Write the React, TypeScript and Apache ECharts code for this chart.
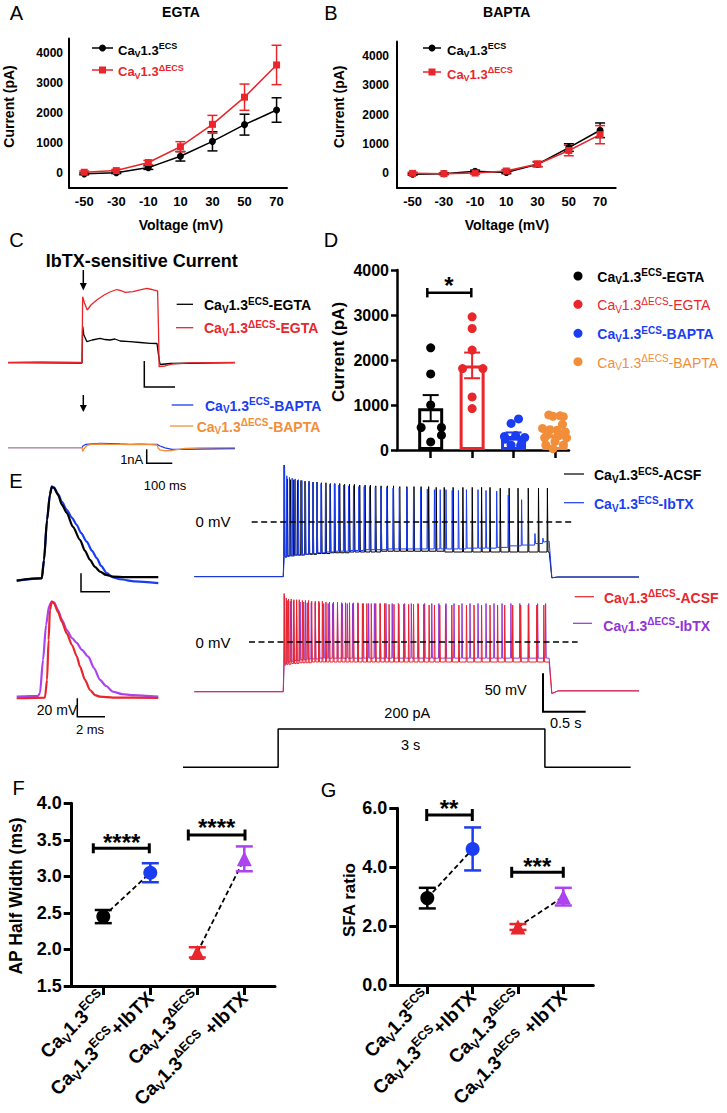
import React, { useEffect, useRef } from "react";
import * as echarts from "echarts";

const FONT = "'Liberation Sans', Arial, Helvetica, sans-serif";
const BLACK = "#000000";
const RED = "#E8262B";
const BLUE = "#1B3DF2";
const ORANGE = "#F28E3A";
const PURPLE = "#AD42F0";
const PURPLE_E = "#9333D6";

// ---------- Panel A / B (I-V) ----------
const voltages = [-50, -30, -10, 10, 30, 50, 70];
const egtaEcsMean = [-40, 0, 170, 550, 1050, 1610, 2100];
const egtaEcsSem = [30, 30, 60, 160, 320, 350, 410];
const egtaDeltaMean = [15, 70, 340, 870, 1620, 2530, 3610];
const egtaDeltaSem = [40, 40, 70, 170, 300, 440, 660];
const baptaEcsMean = [-30, -10, 70, 30, 310, 880, 1470];
const baptaEcsSem = [30, 30, 40, 40, 80, 130, 250];
const baptaDeltaMean = [0, -10, 10, 80, 320, 780, 1320];
const baptaDeltaSem = [40, 30, 40, 50, 90, 180, 310];
const ivTicks = [0, 1000, 2000, 3000, 4000];

// ---------- Panel C (IbTX-sensitive current, [ms, pA]) ----------
const ibtxEcsEgta = [[0, 11], [241, 0], [243, 1370], [247, 1037], [257, 789], [274, 852], [300, 915], [316, 870], [332, 852], [348, 889], [365, 815], [397, 789], [430, 759], [463, 730], [485, 722], [490, 296], [495, -56], [528, -19], [739, 11]];
const ibtxDeltaEgta = [[0, 19], [104, 37], [241, 19], [243, 2456], [249, 2222], [258, 1963], [270, 2148], [289, 2333], [313, 2519], [332, 2630], [354, 2722], [371, 2667], [381, 2619], [407, 2641], [430, 2704], [452, 2767], [469, 2722], [487, 2667], [490, 1222], [492, -137], [511, -111], [537, -30], [593, 7], [739, 19]];
const ibtxEcsBapta = [[0, 0], [241, 0], [244, 121], [254, 243], [274, 279], [300, 314], [332, 293], [365, 264], [397, 243], [430, 250], [463, 243], [485, 236], [495, 121], [511, -21], [534, -114], [577, -114], [625, -93], [739, -57]];
const ibtxDeltaBapta = [[0, 0], [241, 0], [243, -271], [247, -93], [257, 157], [274, 229], [300, 264], [332, 243], [365, 229], [397, 221], [430, 229], [463, 221], [485, 193], [489, -21], [495, -164], [511, -221], [534, -200], [577, -57], [625, -7], [739, 0]];

// ---------- Panel D ----------
const dCategories = [0, 1, 2, 3];
const dMeans = [930, 1880, 310, 350];
const dSems = [290, 285, 80, 70];
const dEcsEgtaVals = [2270, 1690, 1000, 500, 500, 330, 180];
const dEcsEgtaJit = [0, 0, 0, -0.23, 0.26, 0.26, 0];
const dDeltaEgtaVals = [2960, 2700, 2220, 1810, 1810, 1180, 920];
const dDeltaEgtaJit = [0, 0, 0, -0.23, 0.26, 0, 0];
const dEcsBaptaVals = [690, 590, 300, 320, 280, 240, 200, 110, 100];
const dEcsBaptaJit = [0.12, -0.06, -0.22, 0.05, 0.27, -0.2, 0.2, -0.06, 0.17];
const dDeltaBaptaVals = [780, 760, 740, 750, 570, 480, 450, 440, 400, 330, 320, 270, 270, 190, 110, 110, 30];
const dDeltaBaptaJit = [-0.15, 0.12, 0.2, -0.05, 0.18, -0.3, -0.12, 0.05, 0.25, -0.2, 0.1, -0.25, 0.28, 0, -0.22, 0.2, -0.05];

// ---------- Panel E: single APs [ms, mV] ----------
const apEcsAcsf = [[0, -64.9], [1.81, -62.3], [1.97, -42.4], [2.19, 1.1], [2.4, 28.3], [2.53, 36.6], [2.69, 35.9], [2.98, 28.3], [3.27, 17.4], [3.61, 8.7], [4.06, -6.5], [4.57, -20.7], [4.93, -32.6], [5.29, -42.4], [5.65, -50], [6.01, -55.1], [6.45, -58.7], [6.95, -60.5], [7.82, -61.2], [10.22, -61.2]];
const apEcsIbtx = [[0, -64.9], [1.81, -62.5], [1.97, -42.4], [2.19, 1.1], [2.4, 29.3], [2.53, 37.5], [2.69, 36.4], [2.98, 29.3], [3.27, 20.7], [3.61, 12], [3.99, 3.3], [4.33, -4.3], [4.64, -13], [5.05, -22.5], [5.44, -32.6], [5.78, -40.5], [6.09, -48.9], [6.5, -56.8], [6.95, -61.4], [7.45, -63.4], [8.54, -65.8], [10.22, -67.7]];
const apDeltaAcsf = [[0, -66.7], [2.04, -65.9], [2.19, -46.8], [2.3, -3.4], [2.4, 29.2], [2.53, 38.3], [2.69, 36.8], [2.98, 27.1], [3.27, 16.2], [3.61, 3.9], [3.99, -8.8], [4.33, -20.8], [4.57, -32.4], [4.93, -46.8], [5.29, -57.7], [5.65, -63.2], [6.01, -65], [6.95, -65.9], [10.22, -66.4]];
const apDeltaIbtx = [[0, -65], [1.54, -64.2], [1.68, -61], [1.9, -25], [2.12, 12.9], [2.34, 33.6], [2.53, 38.3], [2.69, 37.4], [2.98, 29.2], [3.27, 18.4], [3.61, 7.5], [3.99, -1.2], [4.33, -6.6], [4.71, -14.2], [5.17, -21.5], [5.58, -33.8], [6.01, -46.8], [6.45, -53.4], [6.95, -59.6], [7.6, -62.1], [8.39, -63.2], [10.22, -65]];

// ---------- Panel E: spike trains [s, mV] ----------
const ecsAcsfTimes = [1.01, 1.045, 1.08, 1.12, 1.16, 1.2, 1.245, 1.29, 1.335, 1.38, 1.43, 1.48, 1.53, 1.58, 1.635, 1.69, 1.745, 1.8, 1.86, 1.92, 1.98, 2.04, 2.1, 2.17, 2.24, 2.31, 2.39, 2.47, 2.55, 2.635, 2.72, 2.81, 2.91, 3.02, 3.125, 3.23, 3.325, 3.44, 3.54, 3.64, 3.755, 3.87, 3.97];
const ecsAcsfPeaks = [74, 56, 55, 55, 54, 54, 53, 53, 52, 52, 51, 51, 50, 50, 50, 49, 49, 49, 48, 48, 48, 47, 47, 47, 47, 46, 46, 46, 46, 46, 45, 45, 45, 45, 45, 45, 45, 44, 44, 44, 44, 44, 44];
const ecsAcsfTroughs = [-45, -44, -44, -43, -43, -43, -42, -42, -42, -41, -41, -41, -40, -40, -40, -40, -39, -39, -39, -39, -39, -39, -38, -38, -38, -38, -38, -38, -38, -38, -38, -39, -39, -39, -39, -39, -39, -39, -39, -39, -39, -39, -39];
const ecsIbtxTimes = [1.015, 1.04, 1.07, 1.1, 1.135, 1.17, 1.21, 1.25, 1.29, 1.335, 1.38, 1.425, 1.475, 1.525, 1.575, 1.625, 1.68, 1.735, 1.79, 1.85, 1.91, 1.97, 2.035, 2.1, 2.165, 2.235, 2.305, 2.39, 2.465, 2.545, 2.62, 2.7, 2.765, 2.83, 2.9, 2.97, 3.06, 3.19, 3.28, 3.4, 3.53, 3.68, 3.83, 3.92];
const ecsIbtxPeaks = [72, 60, 58, 57, 56, 55, 54, 53, 52, 52, 51, 50, 50, 49, 49, 48, 48, 47, 47, 46, 46, 46, 45, 45, 45, 44, 44, 44, 43, 43, 43, 42, 42, 42, 41, 41, 42, 42, 41, 40, 35, 29, -15, -21];
const ecsIbtxTroughs = [-46, -45, -44, -44, -43, -43, -42, -42, -41, -41, -40, -40, -39, -39, -38, -38, -38, -37, -37, -37, -36, -36, -36, -36, -35, -35, -35, -35, -35, -35, -35, -35, -35, -35, -35, -35, -34, -34, -34, -33, -31, -30, -28, -26];
const deltaAcsfTimes = [1.01, 1.035, 1.06, 1.09, 1.12, 1.15, 1.18, 1.215, 1.25, 1.285, 1.32, 1.36, 1.4, 1.44, 1.48, 1.52, 1.565, 1.61, 1.655, 1.7, 1.745, 1.79, 1.84, 1.89, 1.94, 1.99, 2.04, 2.09, 2.14, 2.19, 2.245, 2.3, 2.355, 2.41, 2.465, 2.52, 2.58, 2.64, 2.7, 2.76, 2.825, 2.895, 2.975, 3.06, 3.145, 3.23, 3.325, 3.41, 3.49, 3.58, 3.67, 3.755, 3.85, 3.93];
const deltaAcsfPeaks = [63, 57, 56, 56, 55, 55, 55, 54, 54, 54, 53, 53, 53, 53, 52, 52, 52, 52, 51, 51, 51, 51, 51, 50, 50, 50, 50, 50, 50, 49, 49, 49, 49, 49, 49, 49, 49, 48, 48, 48, 48, 48, 48, 48, 48, 48, 48, 48, 48, 48, 48, 48, 48, 48];
const deltaAcsfTroughs = [-30, -29, -29, -28, -28, -28, -27, -27, -27, -27, -26, -26, -26, -26, -26, -26, -26, -26, -26, -26, -26, -26, -26, -26, -26, -26, -26, -26, -26, -26, -26, -26, -26, -26, -26, -26, -26, -26, -26, -26, -26, -26, -26, -26, -26, -26, -26, -26, -26, -26, -26, -26, -26, -26];
const deltaIbtxTimes = [1.015, 1.045, 1.08, 1.115, 1.15, 1.19, 1.23, 1.27, 1.315, 1.36, 1.405, 1.455, 1.505, 1.555, 1.61, 1.665, 1.72, 1.78, 1.84, 1.9, 1.96, 2.025, 2.09, 2.155, 2.225, 2.295, 2.365, 2.44, 2.515, 2.59, 2.67, 2.75, 2.83, 2.92, 3.01, 3.1, 3.19, 3.28, 3.37, 3.46, 3.56, 3.66, 3.76, 3.86, 3.95];
const deltaIbtxPeaks = [60, 54, 53, 53, 52, 52, 52, 51, 51, 51, 51, 50, 50, 50, 50, 50, 50, 50, 50, 50, 50, 50, 50, 50, 50, 50, 50, 50, 50, 50, 50, 50, 50, 50, 50, 50, 50, 50, 50, 50, 50, 50, 50, 50, 50];
const deltaIbtxTroughs = [-28, -26, -25, -24, -24, -23, -23, -22, -22, -22, -21, -21, -21, -21, -21, -21, -21, -21, -21, -21, -21, -21, -21, -21, -21, -21, -21, -21, -21, -21, -21, -21, -21, -21, -21, -21, -21, -21, -21, -21, -21, -21, -21, -21, -21];
const topRest = [-71, -72.5, -71.5];
const bottomRest = [-64.6, -67, -63.5];
const zeroLineTop = [[0.645, 0], [4.25, 0]];
const zeroLineBottom = [[0.615, 0], [4.31, 0]];
const currentStep = [[-0.07, 0], [1, 0], [1, 200], [4, 200], [4, 0], [4.965, 0]];

// ---------- Panel F / G ----------
const fgPositions = [0, 1, 2, 3];
const fMeans = [2.45, 3.05, 1.96, 3.24];
const fSems = [0.09, 0.13, 0.07, 0.17];
const gMeans = [2.95, 4.62, 1.97, 3.0];
const gSems = [0.35, 0.73, 0.1, 0.3];

const richStyles = (fs: number, sfs: number, weight: string, color: string) => ({
  m: { fontSize: fs, fontWeight: weight, fontFamily: FONT, color, fill: color, lineHeight: Math.round(fs * 1.3) },
  s: { fontSize: sfs, fontWeight: weight, fontFamily: FONT, color, fill: color, lineHeight: sfs, verticalAlign: "bottom" },
  u: { fontSize: sfs, fontWeight: weight, fontFamily: FONT, color, fill: color, lineHeight: sfs, verticalAlign: "top" },
});
const caLabel = (sup: string, suffix = "") => `{m|Ca}{s|V}{m|1.3}{u|${sup}}` + (suffix ? `{m|${suffix}}` : "");
const fgLabels = [caLabel("ECS"), caLabel("ECS", "+IbTX"), caLabel("ΔECS"), caLabel("ΔECS", " +IbTX")];
const fgColors = [BLACK, BLUE, RED, PURPLE];
const fgSymbols = ["circle", "circle", "triangle", "triangle"];

function buildTrain(times: number[], peaks: number[], troughs: number[], rest: number[], tail: number, onset: number, offset: number, end: number) {
  const d: number[][] = [[0, rest[0]], [onset, rest[0]]];
  times.forEach((t, i) => {
    const before = i === 0 ? troughs[0] : troughs[i - 1];
    d.push([t - 0.004, before], [t, peaks[i]], [t + 0.007, troughs[i]]);
  });
  d.push([offset, tail], [offset + 0.03, rest[1]], [offset + 0.1, rest[2]], [end, rest[2]]);
  return d;
}

const T = (x: number, y: number, text: string, fs: number, o: any = {}) => ({
  type: "text", x, y, z: 100, rotation: o.rot || 0,
  style: { text, fontSize: fs, fontWeight: o.weight || "normal", fontFamily: FONT, fill: o.color || BLACK, align: o.align || "center", verticalAlign: "middle" },
});
const RT = (x: number, y: number, str: string, fs: number, sfs: number, weight: string, color: string) => ({
  type: "text", x, y, z: 100,
  style: { text: str, rich: richStyles(fs, sfs, weight, color), fontSize: fs, fontWeight: weight, fontFamily: FONT, fill: color, align: "left", verticalAlign: "middle" },
});
const PL = (pts: number[][], color = BLACK, lw = 1.5) => ({ type: "polyline", z: 100, shape: { points: pts }, style: { stroke: color, lineWidth: lw, fill: null } });
const PG = (pts: number[][], color = BLACK) => ({ type: "polygon", z: 100, shape: { points: pts }, style: { fill: color } });
const CI = (cx: number, cy: number, r: number, color: string) => ({ type: "circle", z: 100, shape: { cx, cy, r }, style: { fill: color } });
const RC = (x: number, y: number, w: number, h: number, color: string) => ({ type: "rect", z: 100, shape: { x, y, width: w, height: h }, style: { fill: color } });
const bracket = (x1: number, x2: number, y: number, h: number, lw: number) => [
  PL([[x1, y - h], [x1, y + h]], BLACK, lw), PL([[x1, y], [x2, y]], BLACK, lw), PL([[x2, y - h], [x2, y + h]], BLACK, lw),
];

const errRender = (colors: string[], capW: number, lw: number) => (params: any, api: any) => {
  const x = api.value(0), y = api.value(1), e = api.value(2), ci = api.value(3);
  const c = colors[ci] || colors[0];
  const p1 = api.coord([x, y + e]);
  const p2 = api.coord([x, y - e]);
  const h = capW / 2;
  const st = { stroke: c, lineWidth: lw };
  return {
    type: "group",
    children: [
      { type: "line", shape: { x1: p1[0], y1: p1[1], x2: p2[0], y2: p2[1] }, style: st },
      { type: "line", shape: { x1: p1[0] - h, y1: p1[1], x2: p1[0] + h, y2: p1[1] }, style: st },
      { type: "line", shape: { x1: p2[0] - h, y1: p2[1], x2: p2[0] + h, y2: p2[1] }, style: st },
    ],
  };
};

function buildOption() {
  const grid = [
    { left: 69, top: 38.4, width: 218, height: 149.2 }, // 0 A
    { left: 397, top: 41.5, width: 218.7, height: 146.5 }, // 1 B
    { left: 8, top: 282, width: 227, height: 108 }, // 2 C top
    { left: 8, top: 432, width: 227, height: 28 }, // 3 C bottom
    { left: 397, top: 270, width: 172, height: 180 }, // 4 D
    { left: 16.7, top: 480.4, width: 141.6, height: 109.5 }, // 5 AP top
    { left: 16.7, top: 596.4, width: 141.6, height: 109.5 }, // 6 AP bottom
    { left: 194.3, top: 462, width: 444.7, height: 120 }, // 7 train top
    { left: 194.3, top: 582, width: 444.7, height: 120 }, // 8 train bottom
    { left: 183, top: 726, width: 447.7, height: 44 }, // 9 current
    { left: 71.7, top: 803.3, width: 203.3, height: 182.7 }, // 10 F
    { left: 397.3, top: 808.3, width: 196, height: 176.7 }, // 11 G
  ].map((g) => ({ ...g, containLabel: false, outerBoundsMode: "none" }));

  const plain = (v: number) => String(v);
  const axLine = (w: number) => ({ show: true, onZero: false, lineStyle: { color: BLACK, width: w } });
  const lbl = (fs: number, margin: number, extra: any = {}) => ({ fontSize: fs, fontWeight: "bold", color: BLACK, fontFamily: FONT, margin, ...extra });
  const hidden = (g: number, min: number, max: number) => ({ gridIndex: g, type: "value", min, max, show: false, splitLine: { show: false } });

  const ivX = (g: number, min: number, max: number, m: number) => ({
    gridIndex: g, type: "value", min, max, splitLine: { show: false }, axisTick: { show: false },
    axisLine: axLine(2), axisLabel: lbl(13, m, { customValues: voltages, formatter: plain }),
  });
  const ivY = (g: number, m: number) => ({
    gridIndex: g, type: "value", min: -500, max: 4500, splitLine: { show: false }, axisTick: { show: false },
    axisLine: axLine(2), axisLabel: lbl(12, m, { customValues: ivTicks, formatter: plain }),
  });
  const fgX = (g: number, min: number, max: number) => ({
    gridIndex: g, type: "value", min, max, splitLine: { show: false },
    axisLine: axLine(3),
    axisTick: { show: true, length: 9, lineStyle: { width: 3, color: BLACK }, customValues: fgPositions },
    axisLabel: {
      customValues: fgPositions, rotate: 45, margin: 9,
      formatter: (v: number) => fgLabels[Math.round(v)],
      rich: richStyles(19, 12.5, "bold", BLACK),
    },
  });
  const fgY = (g: number, min: number, max: number, interval: number) => ({
    gridIndex: g, type: "value", min, max, interval, splitLine: { show: false },
    axisLine: axLine(3),
    axisTick: { show: true, length: 8, lineStyle: { width: 3, color: BLACK } },
    axisLabel: lbl(18, 10, { formatter: (v: number) => v.toFixed(1) }),
  });

  const xAxis = [
    ivX(0, -59.5, 76.5, 7),
    ivX(1, -60, 80, 7),
    hidden(2, 0, 739),
    hidden(3, 0, 739),
    {
      gridIndex: 4, type: "value", min: -0.813, max: 3.338, splitLine: { show: false }, axisLine: axLine(2.5),
      axisTick: { show: true, length: 8, lineStyle: { width: 2.5, color: BLACK }, customValues: dCategories },
      axisLabel: { show: false },
    },
    hidden(5, 0, 10.22),
    hidden(6, 0, 10.22),
    hidden(7, 0, 5),
    hidden(8, 0, 5),
    hidden(9, -0.07, 4.965),
    fgX(10, -0.672, 3.653),
    fgX(11, -0.662, 3.662),
  ];
  const yAxis = [
    ivY(0, 6),
    ivY(1, 8),
    hidden(2, -1000, 3000),
    hidden(3, -880, 1120),
    {
      gridIndex: 4, type: "value", min: 0, max: 4000, interval: 1000, splitLine: { show: false }, axisLine: axLine(2.5),
      axisTick: { show: true, length: 6, lineStyle: { width: 2.5, color: BLACK } },
      axisLabel: lbl(16, 8, { formatter: plain }),
    },
    hidden(5, -75, 44),
    hidden(6, -75, 44),
    hidden(7, -78, 78),
    hidden(8, -78, 78),
    hidden(9, -14, 216),
    fgY(10, 1.5, 4.0, 0.5),
    fgY(11, 0, 6, 2),
  ];

  const series: any[] = [];
  const ivSeries = (g: number, mean: number[], sem: number[], color: string, symbol: string) => {
    series.push({
      type: "custom", xAxisIndex: g, yAxisIndex: g, z: 2,
      renderItem: errRender([color], 10, 1.5),
      data: voltages.map((v, i) => [v, mean[i], sem[i], 0]),
    });
    series.push({
      type: "line", xAxisIndex: g, yAxisIndex: g, z: 3,
      data: voltages.map((v, i) => [v, mean[i]]),
      symbol, symbolSize: 7, lineStyle: { color, width: 1.5 }, itemStyle: { color, opacity: 1 },
    });
  };
  ivSeries(0, egtaEcsMean, egtaEcsSem, BLACK, "circle");
  ivSeries(0, egtaDeltaMean, egtaDeltaSem, RED, "rect");
  ivSeries(1, baptaEcsMean, baptaEcsSem, BLACK, "circle");
  ivSeries(1, baptaDeltaMean, baptaDeltaSem, RED, "rect");

  const trace = (g: number, data: number[][], color: string, lw: number, extra: any = {}) =>
    series.push({ type: "line", xAxisIndex: g, yAxisIndex: g, data, symbol: "none", lineStyle: { color, width: lw }, ...extra });

  // C
  trace(2, ibtxEcsEgta, BLACK, 1.3);
  trace(2, ibtxDeltaEgta, RED, 1.3);
  trace(3, ibtxEcsBapta, BLUE, 1.3);
  trace(3, ibtxDeltaBapta, ORANGE, 1.3);

  // D
  const dColors = [BLACK, RED, BLUE, ORANGE];
  series.push({
    type: "bar", xAxisIndex: 4, yAxisIndex: 4, barWidth: 25, z: 2,
    data: dCategories.map((c, i) => ({ value: [c, dMeans[i]], itemStyle: { color: "#ffffff", borderColor: dColors[i], borderWidth: 3 } })),
  });
  const dPts = [
    [dEcsEgtaVals, dEcsEgtaJit], [dDeltaEgtaVals, dDeltaEgtaJit], [dEcsBaptaVals, dEcsBaptaJit], [dDeltaBaptaVals, dDeltaBaptaJit],
  ];
  dPts.forEach(([vals, jit], ci) => {
    series.push({
      type: "scatter", xAxisIndex: 4, yAxisIndex: 4, z: 3, symbol: "circle", symbolSize: 9,
      itemStyle: { color: dColors[ci], opacity: 1 },
      data: vals.map((v, i) => [ci + jit[i], v]),
    });
  });
  series.push({
    type: "custom", xAxisIndex: 4, yAxisIndex: 4, z: 4,
    renderItem: errRender(dColors, 16, 2),
    data: dCategories.map((c, i) => [c, dMeans[i], dSems[i], i]),
  });

  // E single APs
  const sm = { smooth: 0.25, smoothMonotone: "x" };
  trace(5, apEcsIbtx, BLUE, 2.2, sm);
  trace(5, apEcsAcsf, BLACK, 2.2, sm);
  trace(6, apDeltaIbtx, PURPLE, 2.2, sm);
  trace(6, apDeltaAcsf, RED, 2.2, sm);

  // E spike trains
  trace(7, buildTrain(ecsAcsfTimes, ecsAcsfPeaks, ecsAcsfTroughs, topRest, -39, 1.0, 3.99, 5), BLACK, 1);
  trace(7, buildTrain(ecsIbtxTimes, ecsIbtxPeaks, ecsIbtxTroughs, topRest, -25, 1.0, 3.99, 5), BLUE, 1);
  trace(7, zeroLineTop, BLACK, 1.5, { lineStyle: { color: BLACK, width: 1.5, type: [6, 3.5] } });
  trace(8, buildTrain(deltaIbtxTimes, deltaIbtxPeaks, deltaIbtxTroughs, bottomRest, -21, 1.0, 3.99, 5), PURPLE_E, 1);
  trace(8, buildTrain(deltaAcsfTimes, deltaAcsfPeaks, deltaAcsfTroughs, bottomRest, -26, 1.0, 3.99, 5), RED, 1);
  trace(8, zeroLineBottom, BLACK, 1.5, { lineStyle: { color: BLACK, width: 1.5, type: [6, 3.5] } });
  trace(9, currentStep, BLACK, 1.5);

  // F / G
  const fgSeries = (g: number, means: number[], sems: number[]) => {
    series.push({
      type: "line", xAxisIndex: g, yAxisIndex: g, z: 2, symbol: "none",
      data: [[0, means[0]], [1, means[1]]], lineStyle: { color: BLACK, width: 1.8, type: [5, 3] },
    });
    series.push({
      type: "line", xAxisIndex: g, yAxisIndex: g, z: 2, symbol: "none",
      data: [[2, means[2]], [3, means[3]]], lineStyle: { color: BLACK, width: 1.8, type: [5, 3] },
    });
    series.push({
      type: "custom", xAxisIndex: g, yAxisIndex: g, z: 3,
      renderItem: errRender(fgColors, 17, 2.5),
      data: fgPositions.map((p, i) => [p, means[i], sems[i], i]),
    });
    series.push({
      type: "scatter", xAxisIndex: g, yAxisIndex: g, z: 4, itemStyle: { opacity: 1 },
      data: fgPositions.map((p, i) => ({
        value: [p, means[i]], symbol: fgSymbols[i], symbolSize: i < 2 ? 14 : 15, itemStyle: { color: fgColors[i], opacity: 1 },
      })),
    });
  };
  fgSeries(10, fMeans, fSems);
  fgSeries(11, gMeans, gSems);

  // ---------- graphic annotations ----------
  const el: any[] = [];
  const letters: [string, number, number][] = [["A", 16.5, 13], ["B", 331, 13], ["C", 16.5, 240], ["D", 331, 240], ["E", 16, 480.5], ["F", 18.5, 787.5], ["G", 328.5, 789.5]];
  letters.forEach(([t, x, y]) => el.push(T(x, y, t, 20)));
  el.push(T(181, 11.5, "EGTA", 14, { weight: "bold" }));
  el.push(T(506.7, 11.5, "BAPTA", 14, { weight: "bold" }));
  el.push(T(141.7, 261, "IbTX-sensitive Current", 18, { weight: "bold" }));
  // axis titles
  el.push(T(9.2, 106.5, "Current (pA)", 14, { weight: "bold", rot: Math.PI / 2 }));
  el.push(T(339, 106.7, "Current (pA)", 14, { weight: "bold", rot: Math.PI / 2 }));
  el.push(T(181, 225, "Voltage (mV)", 14, { weight: "bold" }));
  el.push(T(507, 225, "Voltage (mV)", 14, { weight: "bold" }));
  el.push(T(338, 352, "Current (pA)", 17, { weight: "bold", rot: Math.PI / 2 }));
  el.push(T(15.8, 896, "AP Half Width (ms)", 17.5, { weight: "bold", rot: Math.PI / 2 }));
  el.push(T(349, 900, "SFA ratio", 17, { weight: "bold", rot: Math.PI / 2 }));

  // legends A / B
  el.push(PL([[92, 48], [113, 48]], BLACK, 1.5), CI(102.5, 48, 3.5, BLACK), RT(118, 50, caLabel("ECS"), 13, 9, "bold", BLACK));
  el.push(PL([[92, 70], [113, 70]], RED, 1.5), RC(99, 66.5, 7, 7, RED), RT(118, 71.7, caLabel("ΔECS"), 13, 9, "bold", RED));
  el.push(PL([[423, 48], [441, 48]], BLACK, 1.5), CI(432, 48, 3.5, BLACK), RT(447, 50, caLabel("ECS"), 13, 9, "bold", BLACK));
  el.push(PL([[423, 72], [441, 72]], RED, 1.5), RC(428.5, 68.5, 7, 7, RED), RT(447, 74, caLabel("ΔECS"), 13, 9, "bold", RED));

  // legend C
  el.push(PL([[176.7, 304.3], [193, 304.3]], BLACK, 1.3), RT(204, 305, caLabel("ECS", "-EGTA"), 14, 10, "bold", BLACK));
  el.push(PL([[176, 327.7], [193.3, 327.7]], RED, 1.3), RT(204, 328.3, caLabel("ΔECS", "-EGTA"), 14, 10, "bold", RED));
  el.push(PL([[171.7, 405], [193.3, 405]], BLUE, 1.3), RT(205, 405.7, caLabel("ECS", "-BAPTA"), 14, 10, "bold", BLUE));
  el.push(PL([[170, 426], [193.3, 426]], ORANGE, 1.3), RT(196.7, 426.7, caLabel("ΔECS", "-BAPTA"), 14, 10, "bold", ORANGE));
  // arrows C
  el.push(PL([[83.3, 270], [83.3, 285]], BLACK, 1.5), PG([[79.8, 283], [86.8, 283], [83.3, 290.5]]));
  el.push(PL([[83.3, 395], [83.3, 406]], BLACK, 1.5), PG([[79.8, 405], [86.8, 405], [83.3, 412]]));
  // scale bars C
  el.push(PL([[144.3, 361], [144.3, 387], [175, 387]], BLACK, 1.5));
  el.push(PL([[146.7, 449.3], [146.7, 463.3], [172.3, 463.3]], BLACK, 1.5));
  el.push(T(131.7, 459, "1nA", 13), T(165, 485, "100 ms", 13));

  // legend D
  el.push(CI(578, 276, 4.5, BLACK), RT(597.3, 276.7, caLabel("ECS", "-EGTA"), 14, 10, "bold", BLACK));
  el.push(CI(578, 304.3, 4.5, RED), RT(597.3, 305, caLabel("ΔECS", "-EGTA"), 14, 10, "normal", RED));
  el.push(CI(578, 333.3, 4.5, BLUE), RT(597.3, 334, caLabel("ECS", "-BAPTA"), 14, 10, "bold", BLUE));
  el.push(CI(578, 361.7, 4.5, ORANGE), RT(597.3, 362.7, caLabel("ΔECS", "-BAPTA"), 14, 10, "normal", ORANGE));
  el.push(...bracket(427.3, 471.3, 292.7, 4.7, 2.5), T(449, 285, "*", 24, { weight: "bold" }));

  // E annotations
  el.push(PL([[81, 573.3], [81, 591.7], [110, 591.7]], BLACK, 1.5));
  el.push(PL([[77.3, 698.3], [77.3, 716.7], [105, 716.7]], BLACK, 1.5));
  el.push(T(57, 710, "20 mV", 14), T(90, 729.3, "2 ms", 13));
  el.push(T(213, 521.7, "0 mV", 15), T(213, 642, "0 mV", 15));
  el.push(PL([[543, 673.3], [543, 711.7], [585.7, 711.7]], BLACK, 2));
  el.push(T(505.7, 690, "50 mV", 14.5), T(565.7, 723.3, "0.5 s", 14.5), T(407.3, 712.7, "200 pA", 14.5), T(410.7, 745, "3 s", 14.5));
  el.push(PL([[564, 474], [584, 474]], BLACK, 1.2), RT(594, 475, caLabel("ECS", "-ACSF"), 14, 10, "bold", BLACK));
  el.push(PL([[564, 502.7], [584, 502.7]], BLUE, 1.2), RT(594, 504.3, caLabel("ECS", "-IbTX"), 14, 10, "bold", BLUE));
  el.push(PL([[574.7, 596.7], [594, 596.7]], RED, 1.2), RT(604, 597.7, caLabel("ΔECS", "-ACSF"), 14, 10, "bold", RED));
  el.push(PL([[573, 623.3], [592, 623.3]], PURPLE_E, 1.2), RT(603.3, 625.7, caLabel("ΔECS", "-IbTX"), 14, 10, "bold", PURPLE_E));

  // F / G brackets
  el.push(...bracket(93.3, 149.3, 848.3, 5, 3), T(121.7, 842, "****", 24, { weight: "bold" }));
  el.push(...bracket(188.3, 245, 835, 5.5, 3), T(216.7, 827, "****", 24, { weight: "bold" }));
  el.push(...bracket(426.7, 472.3, 815, 6, 3), T(449, 808, "**", 24, { weight: "bold" }));
  el.push(...bracket(511.7, 563.3, 872.3, 5.5, 3), T(537.3, 866, "***", 24, { weight: "bold" }));

  return {
    animation: false,
    backgroundColor: "#ffffff",
    grid, xAxis, yAxis, series,
    graphic: { elements: el },
  };
}

export default function App() {
  const ref = useRef<HTMLDivElement>(null);
  useEffect(() => {
    document.body.style.margin = "0";
    const chart = echarts.init(ref.current!, null, { renderer: "svg" });
    chart.setOption(buildOption() as any);
    return () => chart.dispose();
  }, []);
  return <div ref={ref} style={{ width: 727, height: 1113 }} />;
}
